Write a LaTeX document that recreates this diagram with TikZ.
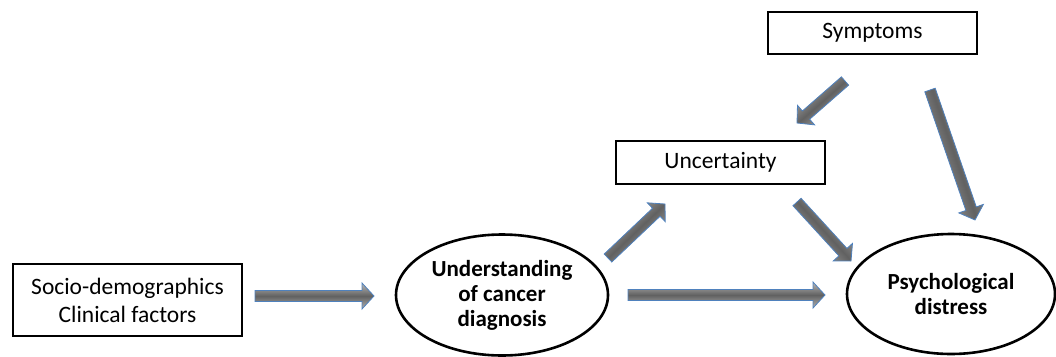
\documentclass[tikz,border=0pt]{standalone}
\usepackage{fontspec}
\setmainfont{Carlito}
\usetikzlibrary{calc,shapes.geometric}
\definecolor{arrowblue}{RGB}{79,129,189}

% block arrow between two named coordinates
\newcommand{\fatarrow}[2]{%
  \coordinate (fa-neck) at ($(#2)!12pt!(#1)$);
  \pgfmathanglebetweenpoints{\pgfpointanchor{#1}{center}}{\pgfpointanchor{#2}{center}}%
  \let\faangle\pgfmathresult
  \shadedraw[fatarrow, shading angle=\faangle]
    ($(#1)!5.5pt!90:(#2)$) -- ($(fa-neck)!5.5pt!90:(#2)$) -- ($(fa-neck)!13pt!90:(#2)$) -- (#2)
    -- ($(fa-neck)!13pt!-90:(#2)$) -- ($(fa-neck)!5.5pt!-90:(#2)$) -- ($(#1)!5.5pt!-90:(#2)$) -- cycle;}

\tikzset{
  box/.style={draw, line width=2.4pt, align=center, inner sep=0pt,
    font=\fontsize{23.5}{28}\selectfont},
  oval/.style={ellipse, draw, line width=2.6pt, align=center, inner sep=0pt,
    font=\bfseries\fontsize{23}{25}\selectfont},
  fatarrow/.style={draw=arrowblue, line width=0.8pt,
    top color=black!28, bottom color=black!30, middle color=black!62}
}

\begin{document}
\begin{tikzpicture}[x=1pt, y=-1pt]
  \useasboundingbox (0,0) rectangle (1056,356);

  % Boxes
  \node[box, minimum width=229pt, minimum height=72pt] (socio) at (127.5,300) {Socio-demographics\\Clinical factors};
  \node[box, minimum width=209pt, minimum height=43pt] (uncert) at (720.5,162.5) {Uncertainty};
  \node[box, minimum width=209pt, minimum height=42pt] (sympt) at (872.5,33) {Symptoms};

  % Ovals
  \node[oval, minimum width=212pt, minimum height=121pt] (under) at (502,295) {Understanding\\of cancer\\diagnosis};
  \node[oval, minimum width=208pt, minimum height=120pt] (distress) at (951,294) {Psychological\\distress};

  % Arrow ends
  \coordinate (socio-out) at (255,296);
  \coordinate (under-in) at (374,296);
  \coordinate (sympt-out1) at (845,81);
  \coordinate (uncert-in) at (797,123);
  \coordinate (sympt-out2) at (930,90);
  \coordinate (distress-in1) at (975,220);
  \coordinate (under-out1) at (608,258);
  \coordinate (uncert-in2) at (665,204);
  \coordinate (uncert-out) at (797,202);
  \coordinate (distress-in2) at (851,261);
  \coordinate (under-out2) at (628,295);
  \coordinate (distress-in3) at (825,295);

  % Arrows
  \fatarrow{socio-out}{under-in}
  \fatarrow{sympt-out1}{uncert-in}
  \fatarrow{sympt-out2}{distress-in1}
  \fatarrow{under-out1}{uncert-in2}
  \fatarrow{uncert-out}{distress-in2}
  \fatarrow{under-out2}{distress-in3}
\end{tikzpicture}
\end{document}
